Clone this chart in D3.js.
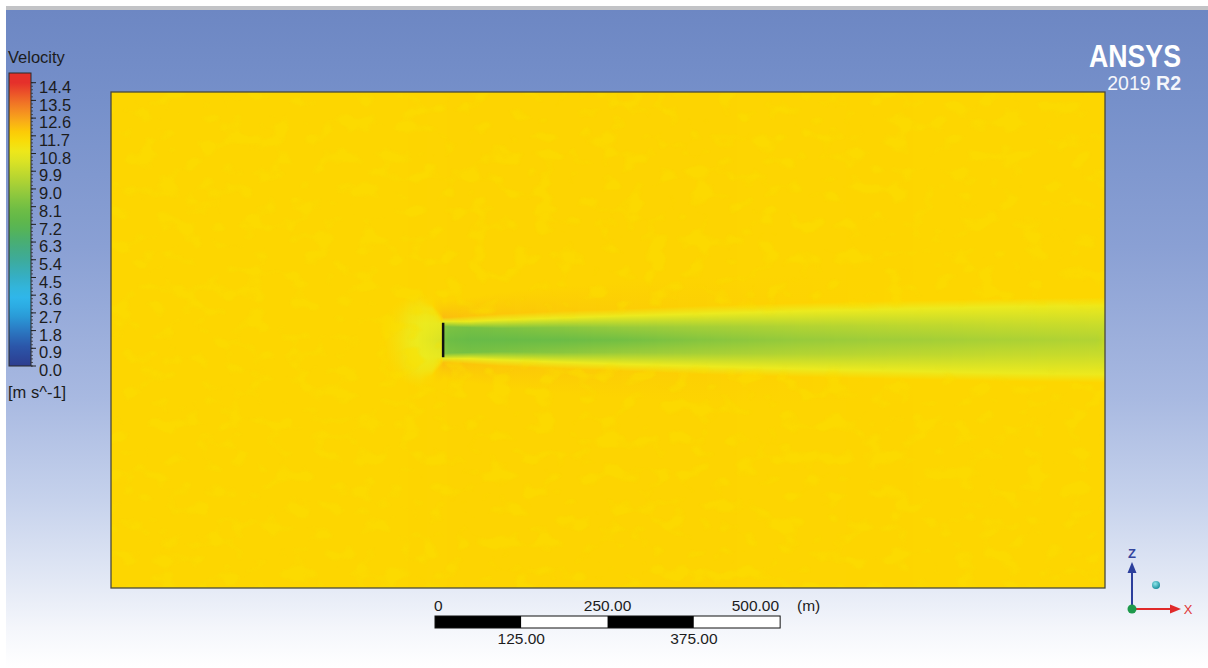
<!DOCTYPE html>
<html><head><meta charset="utf-8">
<script src="https://cdn.jsdelivr.net/npm/d3@7"></script>
<style>html,body{margin:0;padding:0;background:#fff;}svg{display:block;font-family:"Liberation Sans",Arial,sans-serif;}</style>
</head><body>
<script>
// ---------- data ----------
const legendValues = [0.0,0.9,1.8,2.7,3.6,4.5,5.4,6.3,7.2,8.1,9.0,9.9,10.8,11.7,12.6,13.5,14.4];
const legendLabels = ["0.0","0.9","1.8","2.7","3.6","4.5","5.4","6.3","7.2","8.1","9.0","9.9","10.8","11.7","12.6","13.5","14.4"];
const legendColors = ["#2e3d8f","#2b52a6","#2b78c2","#2aa3dd","#30b9ec","#35afc6","#3dab9b","#48ad74","#5bb64c","#72bf44","#9ccc3a","#c5da2c","#ecea1e","#fdd600","#f8a31d","#ef6c27","#e5302b"];

// wake survey stations (m from inlet); rotor at 480 m, radius 25 m
const stationX = [0, 395, 415, 432, 448, 465, 476, 479.5, 481, 490, 520, 565, 650, 740, 855, 1000, 1145, 1290, 1440];
const centreV  = [11.7,11.7,11.35,10.95,10.75,10.55,10.4,10.3,8.3,7.9,7.7,7.7,7.8,8.1,8.5,8.9,9.1,9.3,9.5];
const coreEdgeV= [11.7,11.7,11.4,11.05,10.85,10.75,10.7,10.6,8.6,8.3,8.2,8.3,8.6,8.9,9.2,9.5,9.7,9.9,10.0];
const coreHalfW= [10,10,16,22,24,24,24,24,20,19,18,17,18,18,19,20,21,22,22];
const bandV    = [11.7,11.7,11.5,11.25,11.15,11.15,11.3,11.5,10.7,10.7,10.8,10.8,10.8,10.8,10.8,10.8,10.8,10.8,10.85];
const bandHalfW= [20,20,32,42,46,44,32,28,27,27,27,29,32,35,38,42,45,48,50];
const outerV   = [11.7,11.7,11.6,11.5,11.5,11.65,11.9,12.0,12.15,12.1,12.0,11.95,11.9,11.85,11.8,11.75,11.7,11.7,11.7];
const outerHalfW=[30,30,44,54,58,52,40,36,33,33,35,38,42,45,50,54,57,60,62];
const freeHalfW= [40,40,56,66,70,66,62,60,55,58,62,70,78,85,90,95,95,95,95];
const freeV    = [11.7,11.7,11.7,11.71,11.71,11.72,11.72,11.72,11.72,11.73,11.73,11.74,11.74,11.74,11.73,11.72,11.71,11.7,11.7];

const rotorX = 480, rotorR = 25;
const scaleTicks = [0,125,250,375,500];
const scaleTopLabels = [{v:0,t:"0",a:"start"},{v:250,t:"250.00",a:"middle"},{v:500,t:"500.00",a:"end"}];
const scaleBottomLabels = [{v:125,t:"125.00"},{v:375,t:"375.00"}];

// ---------- layout ----------
const W = 1208, H = 668;
const svg = d3.select("body").append("svg").attr("width", W).attr("height", H);
const defs = svg.append("defs");

// background
const bg = defs.append("linearGradient").attr("id","bg").attr("x1",0).attr("y1",0).attr("x2",0).attr("y2",1);
[[0,"#6d87c3"],[0.14,"#7690ca"],[0.36,"#8aa0d4"],[0.59,"#a8b9e1"],[0.745,"#c6d2ec"],[0.866,"#e2e8f5"],[0.94,"#f4f6fb"],[1,"#ffffff"]]
  .forEach(s => bg.append("stop").attr("offset", s[0]).attr("stop-color", s[1]));
svg.append("rect").attr("width",W).attr("height",H).attr("fill","#fff");
svg.append("rect").attr("x",6).attr("y",10).attr("width",W-6).attr("height",H-10).attr("fill","url(#bg)");
svg.append("rect").attr("x",6).attr("y",6).attr("width",W-6).attr("height",4).attr("fill","#c2c3c6");

// scales
const x = d3.scaleLinear().domain([0,1440]).range([111,1105]);
const z = d3.scaleLinear().domain([-360,360]).range([588,92]);
const color = d3.scaleLinear().domain(legendValues).range(legendColors).interpolate(d3.interpolateRgb).clamp(true);
const sc = arr => d3.scaleLinear().domain(stationX).range(arr).clamp(true);
const sCV = sc(centreV), sCE = sc(coreEdgeV), sCW = sc(coreHalfW), sBV = sc(bandV), sBW = sc(bandHalfW),
      sOV = sc(outerV), sOW = sc(outerHalfW), sFW = sc(freeHalfW), sFV = sc(freeV);

// field
defs.append("clipPath").attr("id","dom").append("rect")
  .attr("x",x(0)).attr("y",z(360)).attr("width",x(1440)-x(0)).attr("height",z(-360)-z(360));
const field = svg.append("g").attr("clip-path","url(#dom)");
const y0 = z(360), yH = z(-360) - z(360);
const cols = d3.range(Math.floor(x(0)), Math.ceil(x(1440)), 1);
cols.forEach((px, i) => {
  const m = x.invert(px + 0.5);
  const fv = sFV(m);
  const stops = [
    [360, fv], [sFW(m), fv], [sOW(m), sOV(m)], [sBW(m), sBV(m)], [sCW(m), sCE(m)], [0, sCV(m)],
    [-sCW(m), sCE(m)], [-sBW(m), sBV(m)], [-sOW(m), sOV(m)], [-sFW(m), fv], [-360, fv]
  ];
  const g = defs.append("linearGradient").attr("id","c"+i).attr("gradientUnits","userSpaceOnUse")
    .attr("x1",0).attr("x2",0).attr("y1",y0).attr("y2",y0+yH);
  stops.forEach(s => g.append("stop").attr("offset", ((z(s[0]) - y0)/yH).toFixed(4)).attr("stop-color", color(s[1])));
  field.append("rect").attr("x",px).attr("y",y0).attr("width",1.6).attr("height",yH).attr("fill","url(#c"+i+")");
});

// mask keeping mesh mottling out of the wake
const mk = defs.append("mask").attr("id","wakeMask").attr("maskUnits","userSpaceOnUse")
  .attr("x",0).attr("y",0).attr("width",W).attr("height",H);
defs.append("filter").attr("id","soft").attr("x","-5%").attr("y","-50%").attr("width","110%").attr("height","200%")
  .append("feGaussianBlur").attr("stdDeviation",4);
mk.append("rect").attr("width",W).attr("height",H).attr("fill","#fff");
const wakeSt = stationX.filter(s => s >= 476);
mk.append("path").attr("filter","url(#soft)").attr("fill","#000")
  .attr("d", d3.area().x(s => x(s)).y0(s => z(-sBW(s) - 4)).y1(s => z(sBW(s) + 4))(wakeSt));

// mesh mottling
const f = defs.append("filter").attr("id","mottle").attr("x",0).attr("y",0).attr("width",1).attr("height",1);
f.append("feTurbulence").attr("type","fractalNoise").attr("baseFrequency","0.045 0.06").attr("numOctaves",2).attr("seed",11);
f.append("feColorMatrix").attr("type","matrix").attr("values","0 0 0 0 0.96  0 0 0 0 0.74  0 0 0 0 0  6 0 0 0 -3.2");
field.append("g").attr("mask","url(#wakeMask)").append("rect")
  .attr("x",x(0)).attr("y",y0).attr("width",x(1440)-x(0)).attr("height",yH)
  .attr("filter","url(#mottle)").attr("opacity",0.45);

// domain border
svg.append("rect").attr("x",x(0)).attr("y",z(360)).attr("width",x(1440)-x(0)).attr("height",z(-360)-z(360))
  .attr("fill","none").attr("stroke","#4a4a3a").attr("stroke-width",1.3);

// rotor
svg.append("line").attr("x1",x(rotorX)+0.8).attr("x2",x(rotorX)+0.8).attr("y1",z(rotorR)).attr("y2",z(-rotorR))
  .attr("stroke","#111").attr("stroke-width",2.5);

// ---------- legend ----------
svg.append("text").attr("x",8).attr("y",63).attr("font-size",16.5).attr("fill","#1c1c1c").text("Velocity");
const barY = d3.scaleLinear().domain([0,14.4]).range([366,82.7]);
const barTop = 73, barBot = 366;
const lg = defs.append("linearGradient").attr("id","lg").attr("gradientUnits","userSpaceOnUse")
  .attr("x1",0).attr("x2",0).attr("y1",barTop).attr("y2",barBot);
d3.range(0,31).forEach(k => {
  const yy = barTop + (barBot-barTop)*k/30;
  lg.append("stop").attr("offset",k/30).attr("stop-color", color(barY.invert(yy)));
});
svg.append("rect").attr("x",9).attr("y",barTop).attr("width",22).attr("height",barBot-barTop)
  .attr("fill","url(#lg)").attr("stroke","#2a2a2a").attr("stroke-width",1);
d3.range(0,14.4001,0.18).forEach(v => {
  svg.append("line").attr("x1",31).attr("x2",33).attr("y1",barY(v)).attr("y2",barY(v)).attr("stroke","#333").attr("stroke-width",0.8);
});
legendValues.forEach((v,i) => {
  svg.append("line").attr("x1",31).attr("x2",36).attr("y1",barY(v)).attr("y2",barY(v)).attr("stroke","#222").attr("stroke-width",1);
  svg.append("text").attr("x",39).attr("y",barY(v)+10.2).attr("font-size",16.5).attr("fill","#1c1c1c").text(legendLabels[i]);
});
svg.append("text").attr("x",8).attr("y",398).attr("font-size",16.5).attr("fill","#1c1c1c").text("[m s^-1]");

// ---------- ANSYS logo ----------
svg.append("text").attr("x",1181).attr("y",67).attr("text-anchor","end").attr("font-size",31).attr("font-weight","bold")
  .attr("fill","#ffffff").attr("textLength",92).attr("lengthAdjust","spacingAndGlyphs").text("ANSYS");
const ver = svg.append("text").attr("x",1181).attr("y",90).attr("text-anchor","end").attr("font-size",19.5).attr("fill","#f4f6fb");
ver.append("tspan").text("2019 ");
ver.append("tspan").attr("font-weight","bold").text("R2");

// ---------- scale bar ----------
const sb = d3.scaleLinear().domain([0,500]).range([435, 435 + (x(500)-x(0))]);
scaleTicks.slice(0,-1).forEach((v,i) => {
  svg.append("rect").attr("x",sb(v)).attr("y",616).attr("width",sb(scaleTicks[i+1])-sb(v)).attr("height",12)
    .attr("fill", i%2===0 ? "#000" : "#fff");
});
svg.append("rect").attr("x",sb(0)).attr("y",616).attr("width",sb(500)-sb(0)).attr("height",12)
  .attr("fill","none").attr("stroke","#111").attr("stroke-width",1);
scaleTopLabels.forEach(d => {
  svg.append("text").attr("x", sb(d.v) + (d.a==="start"?-1:(d.a==="end"?-1:0))).attr("y",611).attr("text-anchor",d.a)
    .attr("font-size",15.5).attr("fill","#1c1c1c").text(d.t);
});
svg.append("text").attr("x",797).attr("y",611).attr("font-size",15.5).attr("fill","#1c1c1c").text("(m)");
scaleBottomLabels.forEach(d => {
  svg.append("text").attr("x",sb(d.v)).attr("y",644).attr("text-anchor","middle").attr("font-size",15.5).attr("fill","#1c1c1c").text(d.t);
});

// ---------- axis triad ----------
const ox = 1132, oy = 609;
svg.append("line").attr("x1",ox).attr("x2",ox).attr("y1",oy).attr("y2",570).attr("stroke","#2c3f9c").attr("stroke-width",2);
svg.append("path").attr("d",`M${ox},${562} L${ox-4.5},${573} L${ox+4.5},${573} Z`).attr("fill","#2c3f9c");
svg.append("text").attr("x",ox).attr("y",558).attr("text-anchor","middle").attr("font-size",13).attr("font-weight","bold").attr("fill","#34459e").text("Z");
svg.append("line").attr("x1",ox).attr("x2",1172).attr("y1",oy).attr("y2",oy).attr("stroke","#e02a2a").attr("stroke-width",2);
svg.append("path").attr("d",`M${1181},${oy} L${1170},${oy-4.5} L${1170},${oy+4.5} Z`).attr("fill","#e02a2a");
svg.append("text").attr("x",1188).attr("y",613.5).attr("text-anchor","middle").attr("font-size",13).attr("fill","#e03636").text("X");
svg.append("circle").attr("cx",ox).attr("cy",oy).attr("r",4.5).attr("fill","#1e9a4c");
const rg = defs.append("radialGradient").attr("id","ball").attr("cx","40%").attr("cy","35%").attr("r","65%");
rg.append("stop").attr("offset",0).attr("stop-color","#8fe6ea");
rg.append("stop").attr("offset",1).attr("stop-color","#1a8f9e");
svg.append("circle").attr("cx",1156).attr("cy",585).attr("r",4).attr("fill","url(#ball)");
</script>
</body></html>
